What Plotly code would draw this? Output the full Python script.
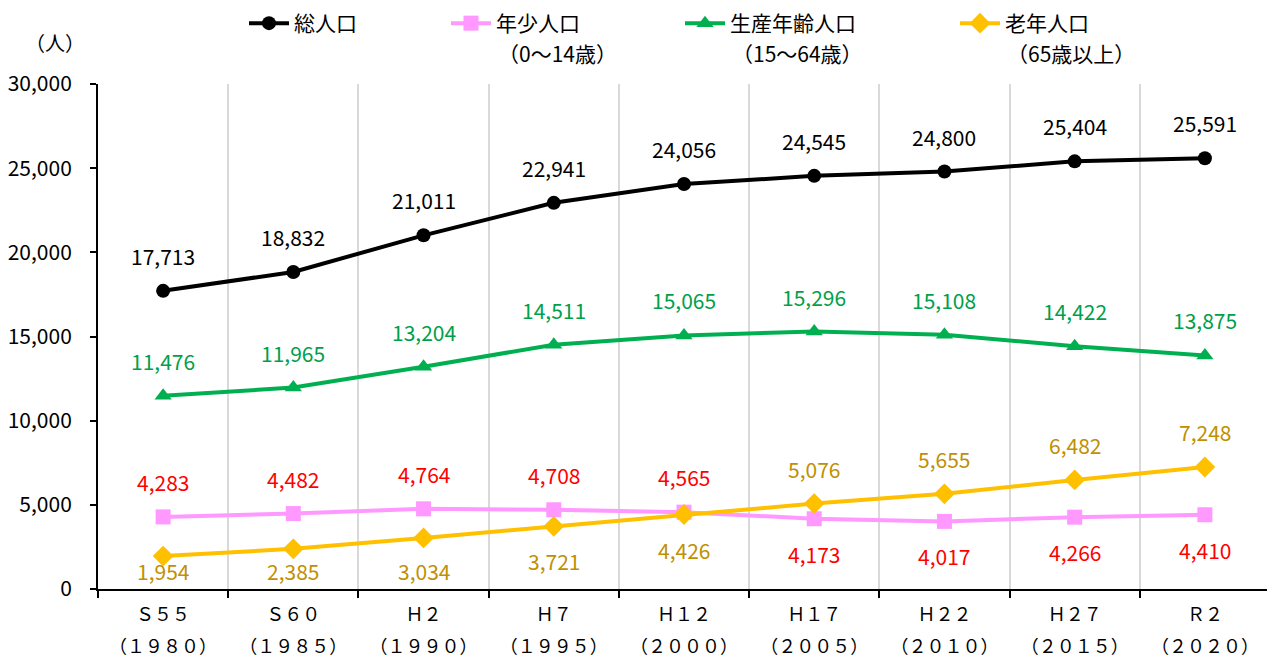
import plotly.graph_objects as go

cat_top = ["Ｓ５５", "Ｓ６０", "Ｈ２", "Ｈ７", "Ｈ１２", "Ｈ１７", "Ｈ２２", "Ｈ２７", "Ｒ２"]
cat_year = ["（１９８０）", "（１９８５）", "（１９９０）", "（１９９５）", "（２０００）",
            "（２００５）", "（２０１０）", "（２０１５）", "（２０２０）"]
total = [17713, 18832, 21011, 22941, 24056, 24545, 24800, 25404, 25591]
young = [4283, 4482, 4764, 4708, 4565, 4173, 4017, 4266, 4410]
working = [11476, 11965, 13204, 14511, 15065, 15296, 15108, 14422, 13875]
old = [1954, 2385, 3034, 3721, 4426, 5076, 5655, 6482, 7248]

names = ["総人口", "年少人口", "生産年齢人口", "老年人口"]
name_sub = ["", "（0～14歳）", "（15～64歳）", "（65歳以上）"]

FONT = "Noto Sans CJK JP, Noto Sans, sans-serif"
# page has an 8px body margin; figure sized so it fills the 1275x663 window
W, H = 1267, 655
ML, MR, MT, MB = 90, 5, 76, 74
PW = W - ML - MR
PH = H - MT - MB
YMAX = 30000

x = list(range(len(cat_top)))

series = [
    (total, "#000000", "circle", 14, "legend"),
    (young, "#FF99FF", "square", 15, "legend2"),
    (working, "#00B050", "triangle-up", 15, "legend3"),
    (old, "#FFC000", "diamond", 16, "legend4"),
]

fig = go.Figure()
for (vals, col, sym, sz, lg), nm in zip(series, names):
    fig.add_trace(go.Scatter(
        x=x, y=vals, name=nm, mode="lines+markers",
        line=dict(color=col, width=4),
        marker=dict(symbol=sym, size=sz, color=col),
        legend=lg, hoverinfo="x+y",
    ))
# invisible helper so the second (year) axis is drawn
fig.add_trace(go.Scatter(x=x, y=[None] * len(x), xaxis="x2", showlegend=False,
                         hoverinfo="skip", mode="lines"))

OFF = 35
def px_of(v):
    return v / YMAX * PH

C_TOTAL, C_YOUNG, C_WORK, C_OLD = "#000000", "#FF0000", "#00A04A", "#BF9000"
annotations = []
for i in x:
    for vals, col in ((total, C_TOTAL), (working, C_WORK)):
        annotations.append(dict(x=i, y=vals[i], text=f"{vals[i]:,}", showarrow=False,
                                yshift=OFF, font=dict(color=col)))
    if young[i] >= old[i]:
        up, dn = (young, C_YOUNG), (old, C_OLD)
    else:
        up, dn = (old, C_OLD), (young, C_YOUNG)
    annotations.append(dict(x=i, y=up[0][i], text=f"{up[0][i]:,}", showarrow=False,
                            yshift=OFF, font=dict(color=up[1])))
    shift = min(OFF, px_of(dn[0][i]) - 18)
    annotations.append(dict(x=i, y=dn[0][i], text=f"{dn[0][i]:,}", showarrow=False,
                            yshift=-shift, font=dict(color=dn[1])))

def lx(px):
    return (px - ML) / PW

def ly(py):
    return 1 + (MT - py) / PH

annotations.append(dict(xref="paper", yref="paper", x=lx(47), y=ly(35), text="（人）",
                        xanchor="center", yanchor="middle",
                        showarrow=False, font=dict(size=20, color="#000000")))

text_start = [286, 488, 722, 997]
for ts, sub in zip(text_start, name_sub):
    if sub:
        annotations.append(dict(xref="paper", yref="paper", x=lx(ts), y=ly(45), text=sub,
                                xanchor="left", yanchor="middle", showarrow=False,
                                font=dict(size=21, color="#000000")))

leg_common = dict(orientation="v", yanchor="top", y=ly(-5), xanchor="left",
                  bgcolor="rgba(0,0,0,0)", font=dict(size=21, color="#000000"),
                  itemwidth=40, tracegroupgap=0)

fig.update_layout(
    width=W, height=H,
    margin=dict(l=ML, r=MR, t=MT, b=MB, autoexpand=False),
    paper_bgcolor="white", plot_bgcolor="white",
    font=dict(family=FONT, size=21, color="#000000"),
    showlegend=True,
    legend=dict(x=lx(text_start[0] - 50), **leg_common),
    legend2=dict(x=lx(text_start[1] - 50), **leg_common),
    legend3=dict(x=lx(text_start[2] - 50), **leg_common),
    legend4=dict(x=lx(text_start[3] - 50), **leg_common),
    annotations=annotations,
    hovermode="closest",
    xaxis=dict(
        range=[-0.5, len(x) - 0.5],
        tickvals=x, ticktext=cat_top, ticks="",
        showgrid=False, zeroline=False, automargin=False,
        showline=True, linecolor="#000000", linewidth=2,
        tickfont=dict(size=18), ticklabelstandoff=8,
        minor=dict(tick0=-0.5, dtick=1, ticks="outside", ticklen=7, tickwidth=2,
                   tickcolor="#000000", showgrid=True, gridcolor="#D9D9D9", gridwidth=2),
    ),
    xaxis2=dict(
        range=[-0.5, len(x) - 0.5], overlaying="x", anchor="y", side="bottom",
        tickvals=x, ticktext=cat_year, ticks="", showline=False,
        showgrid=False, zeroline=False, automargin=False,
        tickfont=dict(size=18), ticklabelstandoff=45,
    ),
    yaxis=dict(
        range=[0, YMAX], dtick=5000, tickformat=",",
        showgrid=False, zeroline=False, automargin=False,
        showline=True, linecolor="#000000", linewidth=2,
        ticks="outside", ticklen=6, tickwidth=2, tickcolor="#000000",
        tickfont=dict(size=21), ticklabelstandoff=14,
    ),
)

fig.write_html("out.html")
